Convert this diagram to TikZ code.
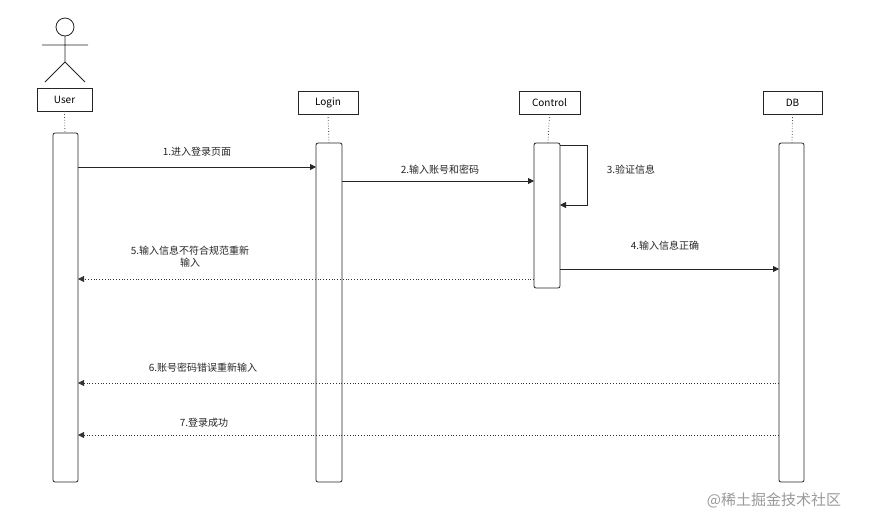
\documentclass[tikz,border=0pt]{standalone}
\usepackage{fontspec}
\setmainfont{Noto Sans CJK SC}
\usetikzlibrary{arrows.meta}
\begin{document}
\begin{tikzpicture}[x=1pt,y=-1pt,
  lbl/.style={font=\fontsize{10}{12}\selectfont,text=black!85},
  head/.style={draw=black!85,line width=0.8pt,fill=white,minimum height=23pt,inner sep=0pt,font=\fontsize{10}{12}\selectfont},
  act/.style={draw=black!85,line width=0.8pt,fill=white,rounded corners=2pt},
  life/.style={draw=black!70,dotted,thick},
  msg/.style={draw=black!85,line width=0.8pt,-{Triangle[length=6pt,width=6pt]}},
  ret/.style={draw=black!80,dotted,thick,-{Triangle[length=6pt,width=6pt]}}]
\useasboundingbox (0,0) rectangle (872,528);
% actor
\draw[black!85,thick] (65,27) circle (9);
\draw[black!85,thick] (65,36) -- (65,62) (42,45) -- (88,45) (45,82) -- (65,62) -- (85,82);
\node[head,minimum width=55pt] (user) at (64.5,99.5) {User};
\node[head,minimum width=60pt] (login) at (328,102.5) {Login};
\node[head,minimum width=61pt] (ctrl) at (549.5,102.5) {Control};
\node[head,minimum width=59pt] (db) at (792.5,102.5) {DB};
\draw[life] (user.south) -- (65,133);
\draw[life] (login.south) -- (329,143);
\draw[life] (ctrl.south) -- (548,143);
\draw[life] (db.south) -- (792,143);
\draw[act] (53,133) rectangle (78,482);
\draw[act] (316,143) rectangle (342,482);
\draw[act] (534,143) rectangle (560,288);
\draw[act] (779,143) rectangle (804,482);
\coordinate (a1) at (78,167); \coordinate (b1) at (316,167);
\draw[msg] (a1) -- (b1);
\node[lbl] (l1) at (197,152) {1.进入登录页面};
\coordinate (a2) at (342,181); \coordinate (b2) at (534,181);
\draw[msg] (a2) -- (b2);
\node[lbl] (l2) at (440,170) {2.输入账号和密码};
\coordinate (a3) at (560,145); \coordinate (b3) at (560,205);
\draw[msg] (a3) -- (587,145) -- (587,205) -- (b3);
\node[lbl] (l3) at (631,170) {3.验证信息};
\coordinate (a4) at (560,269); \coordinate (b4) at (779,269);
\draw[msg] (a4) -- (b4);
\node[lbl] (l4) at (665,246) {4.输入信息正确};
\coordinate (a5) at (534,279); \coordinate (b5) at (78,279);
\draw[ret] (a5) -- (b5);
\node[lbl,align=center] (l5) at (190,257) {5.输入信息不符合规范重新\\输入};
\coordinate (a6) at (779,383); \coordinate (b6) at (78,383);
\draw[ret] (a6) -- (b6);
\node[lbl] (l6) at (203,368) {6.账号密码错误重新输入};
\coordinate (a7) at (779,435); \coordinate (b7) at (78,435);
\draw[ret] (a7) -- (b7);
\node[lbl] (l7) at (204,423) {7.登录成功};
\node[font=\fontsize{15}{17}\selectfont,text=black!40] (wm) at (774,500) {@稀土掘金技术社区};
\end{tikzpicture}
\end{document}
